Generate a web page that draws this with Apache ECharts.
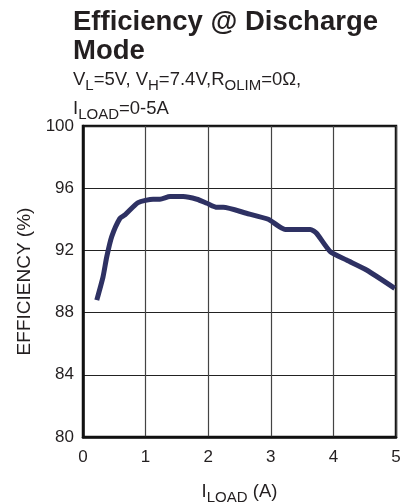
<!DOCTYPE html>
<html>
<head>
<meta charset="utf-8">
<script src="https://cdn.jsdelivr.net/npm/echarts@6/dist/echarts.min.js"></script>
<style>
  html, body { margin: 0; padding: 0; background: #fff; }
  #chart { width: 405px; height: 504px; }
</style>
</head>
<body>
<div id="chart"></div>
<script>
// load current (A) vs efficiency (%)
const loadCurrent = [0.22, 0.32, 0.38, 0.46, 0.59, 0.67, 0.88, 1.12, 1.23, 1.39, 1.6, 1.82, 1.98, 2.14, 2.24, 2.61, 2.96, 3.23, 3.63, 3.73, 3.95, 4.21, 4.53, 4.98];
const efficiency = [88.8, 90.3, 91.6, 92.9, 94.06, 94.28, 95.07, 95.29, 95.29, 95.46, 95.46, 95.29, 95.03, 94.77, 94.77, 94.39, 94.0, 93.35, 93.35, 93.1, 91.92, 91.38, 90.74, 89.56];
const xTicks = [0, 1, 2, 3, 4, 5];
const yTicks = [80, 84, 88, 92, 96, 100];

const chart = echarts.init(document.getElementById("chart"));

const txt = "#231f20";
const font = "Liberation Sans, Arial, sans-serif";

chart.setOption({
  animation: false,
  title: [
    {
      text: "Efficiency @ Discharge\nMode",
      left: 73,
      top: 8,
      padding: 0,
      textStyle: {
        fontFamily: font,
        fontSize: 27.5,
        fontWeight: "bold",
        color: txt,
        lineHeight: 29,
      },
    },
    {
      text: "{n|V}{s|L}{n|=5V, V}{s|H}{n|=7.4V,R}{s|OLIM}{n|=0Ω,}\n{n|I}{s|LOAD}{n|=0-5A}",
      left: 73,
      top: 70,
      padding: 0,
      textStyle: {
        fontFamily: font,
        fontWeight: "normal",
        rich: {
          n: { fontFamily: font, fontSize: 18.5, fontWeight: "normal", color: txt, lineHeight: 29, verticalAlign: "top" },
          s: { fontFamily: font, fontSize: 15, fontWeight: "normal", color: txt, lineHeight: 29, verticalAlign: "top", padding: [8, 0, 0, 0] },
        },
      },
    },
  ],
  grid: {
    left: 83,
    right: 9,
    top: 126,
    bottom: 67,
    containLabel: false,
    outerBoundsMode: "none",
    show: true,
    borderColor: "#111",
    borderWidth: 2.5,
  },
  xAxis: {
    type: "value",
    min: 0,
    max: 5,
    interval: 1,
    name: "{n|I}{s|LOAD}{n| (A)}",
    nameLocation: "middle",
    nameGap: 45,
    nameTextStyle: {
      rich: {
        n: { fontFamily: font, fontSize: 18.5, color: txt, lineHeight: 24, verticalAlign: "top" },
        s: { fontFamily: font, fontSize: 15, color: txt, lineHeight: 24, verticalAlign: "top", padding: [8, 0, 0, 0] },
      },
    },
    axisLine: { show: true, lineStyle: { color: "#111", width: 2.5 } },
    axisTick: { show: false },
    axisLabel: {
      fontFamily: font,
      fontSize: 17,
      color: txt,
      margin: 12,
      formatter: (v) => (xTicks.includes(v) ? String(v) : ""),
    },
    splitLine: { show: true, lineStyle: { color: "#444", width: 1.2 } },
  },
  yAxis: {
    type: "value",
    min: 80,
    max: 100,
    interval: 4,
    name: "EFFICIENCY (%)",
    nameLocation: "middle",
    nameGap: 49,
    nameTextStyle: { fontFamily: font, fontSize: 19, color: txt },
    axisLine: { show: true, lineStyle: { color: "#111", width: 2.5 } },
    axisTick: { show: false },
    axisLabel: {
      fontFamily: font,
      fontSize: 17,
      color: txt,
      margin: 9,
      formatter: (v) => (yTicks.includes(v) ? String(v) : ""),
    },
    splitLine: { show: true, lineStyle: { color: "#222", width: 1.2 } },
  },
  series: [
    {
      type: "line",
      data: loadCurrent.map((x, i) => [x, efficiency[i]]),
      showSymbol: false,
      smooth: 0.2,
      lineStyle: { color: "#2e3163", width: 5, cap: "butt", join: "round" },
    },
  ],
});
</script>
</body>
</html>
